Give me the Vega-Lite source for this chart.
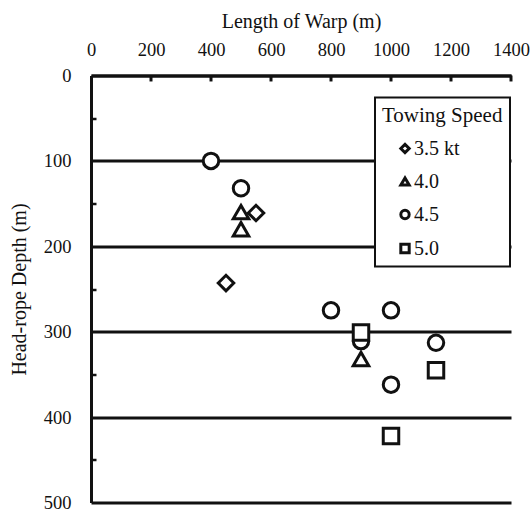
{
  "$schema": "https://vega.github.io/schema/vega-lite/v6.json",
  "width": 420,
  "height": 427,
  "autosize": "none",
  "padding": {"left": 91, "top": 75.5, "right": 20, "bottom": 9.5},
  "background": "white",
  "config": {
    "font": "Liberation Serif",
    "view": {"stroke": null},
    "axis": {
      "domainColor": "#111111",
      "domainWidth": 3,
      "tickColor": "#111111",
      "labelColor": "#111111",
      "titleColor": "#111111",
      "labelFont": "Liberation Serif",
      "titleFont": "Liberation Serif",
      "labelFontSize": 18.5,
      "titleFontSize": 20,
      "titleFontWeight": "normal",
      "gridColor": "#111111",
      "gridOpacity": 1,
      "gridWidth": 3,
      "labelOverlap": false,
      "labelFlush": false
    },
    "legend": {
      "strokeWidth": 2
    }
  },
  "resolve": {"axis": {"x": "independent", "y": "independent"}},
  "layer": [
    {
      "data": {
        "values": [
          {"tick": 200}, {"tick": 400}, {"tick": 600}, {"tick": 800},
          {"tick": 1000}, {"tick": 1200}, {"tick": 1400}
        ]
      },
      "mark": {"type": "rule", "color": "#111111", "strokeWidth": 3},
      "encoding": {
        "x": {
          "field": "tick", "type": "quantitative",
          "scale": {"domain": [0, 1400], "nice": false},
          "axis": {"orient": "top", "values": [0, 200, 400, 600, 800, 1000, 1200, 1400], "format": "d", "ticks": false, "grid": false, "labelPadding": 16, "title": "Length of Warp (m)", "titlePadding": 9}
        },
        "y": {
          "datum": 0, "type": "quantitative",
          "scale": {"domain": [0, 500], "reverse": true, "nice": false},
          "axis": {"orient": "left", "values": [0, 100, 200, 300, 400, 500], "format": "d", "ticks": false, "grid": true, "labelPadding": 20, "title": "Head-rope Depth (m)", "titlePadding": 14}
        },
        "y2": {"datum": 7}
      }
    },
    {
      "data": {
        "values": [
          {"warp": 550, "depth": 161, "speed": "3.5 kt"},
          {"warp": 450, "depth": 243, "speed": "3.5 kt"},
          {"warp": 500, "depth": 160, "speed": "4.0"},
          {"warp": 500, "depth": 180, "speed": "4.0"},
          {"warp": 900, "depth": 332, "speed": "4.0"},
          {"warp": 400, "depth": 100, "speed": "4.5"},
          {"warp": 500, "depth": 132, "speed": "4.5"},
          {"warp": 800, "depth": 275, "speed": "4.5"},
          {"warp": 1000, "depth": 275, "speed": "4.5"},
          {"warp": 900, "depth": 311, "speed": "4.5"},
          {"warp": 1150, "depth": 313, "speed": "4.5"},
          {"warp": 1000, "depth": 362, "speed": "4.5"},
          {"warp": 900, "depth": 301, "speed": "5.0"},
          {"warp": 1150, "depth": 345, "speed": "5.0"},
          {"warp": 1000, "depth": 422, "speed": "5.0"}
        ]
      },
      "mark": {"type": "point", "filled": true, "fill": "white", "fillOpacity": 1, "stroke": "#111111", "strokeWidth": 3, "size": 240},
      "encoding": {
        "x": {"field": "warp", "type": "quantitative", "axis": null},
        "y": {
          "field": "depth", "type": "quantitative",
          "axis": {"orient": "left", "values": [50, 150, 250, 350, 450], "labels": false, "domain": false, "grid": false, "ticks": true, "tickSize": -5, "tickWidth": 2.5, "title": null}
        },
        "shape": {
          "field": "speed", "type": "nominal",
          "scale": {"domain": ["3.5 kt", "4.0", "4.5", "5.0"], "range": ["diamond", "triangle-up", "circle", "square"]},
          "legend": {
            "orient": "none", "legendX": 284, "legendY": 22,
            "title": "Towing Speed",
            "titleFontSize": 21, "titleFontWeight": "normal", "titleColor": "#111111", "titlePadding": 13,
            "labelFontSize": 20, "labelColor": "#111111", "labelOffset": -1,
            "fillColor": "white", "strokeColor": "#111111", "padding": 7,
            "symbolOffset": 13, "symbolSize": 70, "symbolStrokeWidth": 3,
            "rowPadding": 12
          }
        }
      }
    }
  ]
}
